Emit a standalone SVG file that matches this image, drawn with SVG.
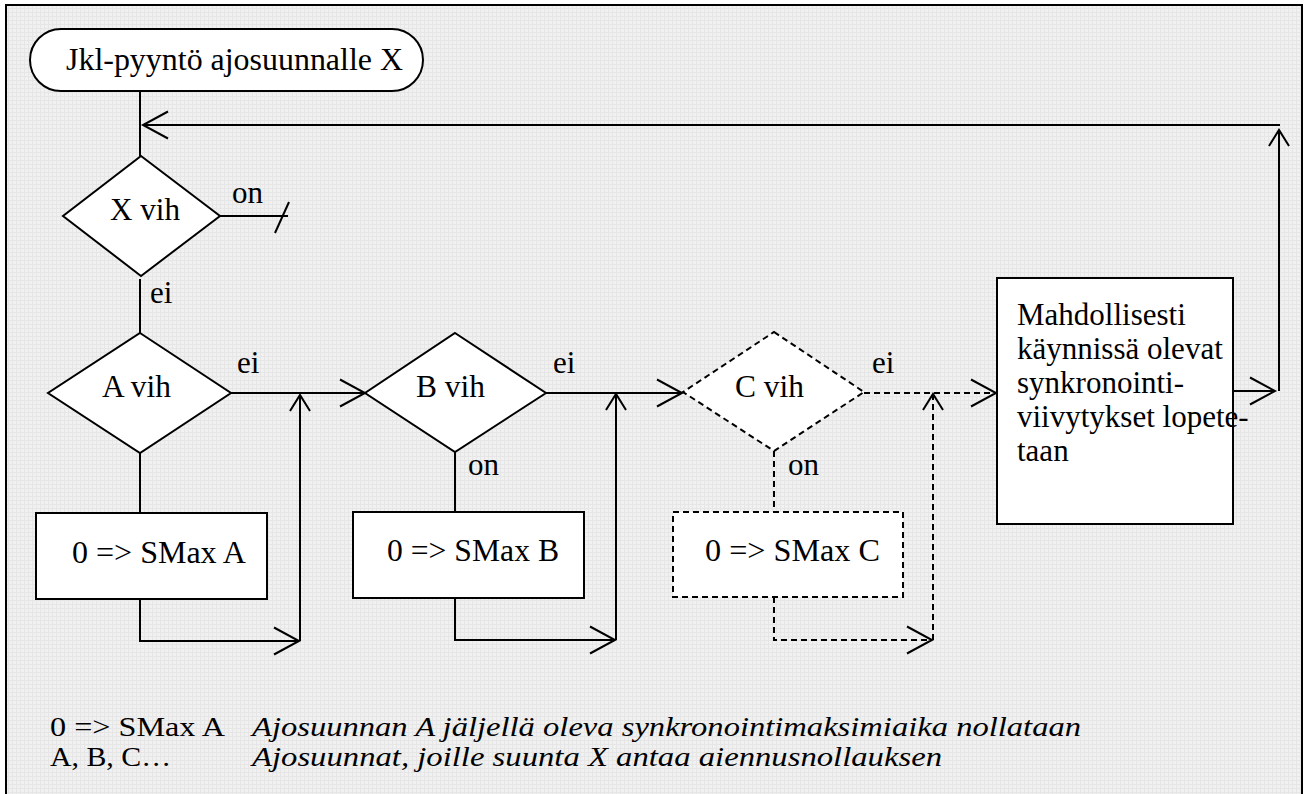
<svg xmlns="http://www.w3.org/2000/svg" width="1306" height="794" viewBox="0 0 1306 794">
<style>
text{font-family:"Liberation Serif","DejaVu Serif",serif;font-size:31px;fill:#000}
.it{font-style:italic}
.lg{font-size:28px}
.shape{fill:#fff;stroke:#000;stroke-width:2}
.dash{stroke-dasharray:6 4}
.conn{fill:none;stroke:#000;stroke-width:2}
</style>
<defs>
<pattern id="bg" width="4" height="4" patternUnits="userSpaceOnUse">
<rect width="4" height="4" fill="#f1f1f1"/>
<rect width="4" height="1" fill="#e6e6e6"/>
<rect width="1" height="4" fill="#e6e6e6"/>
</pattern>
<marker id="aL" viewBox="-1 -1 28 30" refX="25" refY="14" markerWidth="28" markerHeight="30" markerUnits="userSpaceOnUse" orient="auto" overflow="visible">
<path d="M0 0.5 L25 14 L0 27.5" fill="none" stroke="#000" stroke-width="2"/>
</marker>
<marker id="aS" viewBox="-1 -1 19 23" refX="16" refY="10" markerWidth="19" markerHeight="23" markerUnits="userSpaceOnUse" orient="auto" overflow="visible">
<path d="M0 0 L16 10 L0 20" fill="none" stroke="#000" stroke-width="2"/>
</marker>
</defs>
<rect width="1306" height="794" fill="#fff"/>
<rect id="frame" x="6" y="5" width="1296" height="800" fill="url(#bg)" stroke="#000" stroke-width="2"/>

<g id="connectors">
<line class="conn" x1="140" y1="91" x2="140" y2="156"/>
<line class="conn" x1="1280" y1="125" x2="143" y2="125" marker-end="url(#aL)"/>
<line class="conn" x1="220" y1="216" x2="288" y2="216"/>
<line class="conn" x1="275" y1="233" x2="289" y2="202"/>
<line class="conn" x1="140" y1="279" x2="140" y2="333"/>
<line class="conn" x1="140" y1="453" x2="140" y2="513"/>
<path class="conn" d="M140 599 V641 H299" marker-end="url(#aL)"/>
<line class="conn" x1="300" y1="641" x2="300" y2="395" marker-end="url(#aS)"/>
<line class="conn" x1="231" y1="393" x2="365" y2="393" marker-end="url(#aL)"/>
<line class="conn" x1="455" y1="452" x2="455" y2="512"/>
<path class="conn" d="M455 598 V640 H615" marker-end="url(#aL)"/>
<line class="conn" x1="616" y1="640" x2="616" y2="394" marker-end="url(#aS)"/>
<line class="conn" x1="546" y1="393" x2="682" y2="393" marker-end="url(#aL)"/>
<line class="conn dash" x1="774" y1="451" x2="774" y2="512"/>
<path class="conn dash" d="M774 597 V640 H932" marker-end="url(#aL)"/>
<line class="conn dash" x1="933" y1="640" x2="933" y2="394" marker-end="url(#aS)"/>
<line class="conn dash" x1="864" y1="393" x2="996" y2="393" marker-end="url(#aL)"/>
<line class="conn" x1="1233" y1="391" x2="1275" y2="391" marker-end="url(#aL)"/>
<line class="conn" x1="1279" y1="391" x2="1279" y2="130" marker-end="url(#aS)"/>
<text x="232" y="203">on</text>
<text x="150" y="303">ei</text>
<text x="237" y="373">ei</text>
<text x="553" y="373">ei</text>
<text x="468" y="475">on</text>
<text x="872" y="373">ei</text>
<text x="788" y="475">on</text>
</g>

<g id="start">
<rect class="shape" x="30" y="29" width="393" height="62" rx="31" ry="31"/>
<text x="66" y="70" textLength="337" lengthAdjust="spacingAndGlyphs">Jkl-pyyntö ajosuunnalle X</text>
</g>
<g id="xvih">
<polygon class="shape" points="141,156 220,216 141,276 63,216"/>
<text x="110" y="220" textLength="70" lengthAdjust="spacingAndGlyphs">X vih</text>
</g>
<g id="avih">
<polygon class="shape" points="140,333 231,393 140,453 48,393"/>
<text x="102" y="397" textLength="69" lengthAdjust="spacingAndGlyphs">A vih</text>
</g>
<g id="smaxa">
<rect class="shape" x="36" y="513" width="231" height="86"/>
<text x="72" y="563" textLength="174" lengthAdjust="spacingAndGlyphs">0 =&gt; SMax A</text>
</g>
<g id="bvih">
<polygon class="shape" points="455,333 546,393 455,452 365,393"/>
<text x="416" y="397" textLength="69" lengthAdjust="spacingAndGlyphs">B vih</text>
</g>
<g id="smaxb">
<rect class="shape" x="353" y="512" width="231" height="86"/>
<text x="387" y="561" textLength="172" lengthAdjust="spacingAndGlyphs">0 =&gt; SMax B</text>
</g>
<g id="cvih">
<polygon class="shape dash" points="774,332 864,392 774,451 683,392"/>
<text x="735" y="397" textLength="69" lengthAdjust="spacingAndGlyphs">C vih</text>
</g>
<g id="smaxc">
<rect class="shape dash" x="673" y="512" width="230" height="85"/>
<text x="705" y="561" textLength="175" lengthAdjust="spacingAndGlyphs">0 =&gt; SMax C</text>
</g>
<g id="stopbox">
<rect class="shape" x="997" y="278" width="236" height="246"/>
<text x="1017" y="325">Mahdollisesti</text>
<text x="1017" y="359">käynnissä olevat</text>
<text x="1017" y="393">synkronointi-</text>
<text x="1017" y="427">viivytykset lopete-</text>
<text x="1017" y="461">taan</text>
</g>
<g id="legend">
<text class="lg" x="50" y="736" textLength="175" lengthAdjust="spacingAndGlyphs">0 =&gt; SMax A</text>
<text class="lg it" x="252" y="736" textLength="829" lengthAdjust="spacingAndGlyphs">Ajosuunnan A jäljellä oleva synkronointimaksimiaika nollataan</text>
<text class="lg" x="50" y="766" textLength="121" lengthAdjust="spacingAndGlyphs">A, B, C…</text>
<text class="lg it" x="252" y="766" textLength="690" lengthAdjust="spacingAndGlyphs">Ajosuunnat, joille suunta X antaa aiennusnollauksen</text>
</g>
</svg>
